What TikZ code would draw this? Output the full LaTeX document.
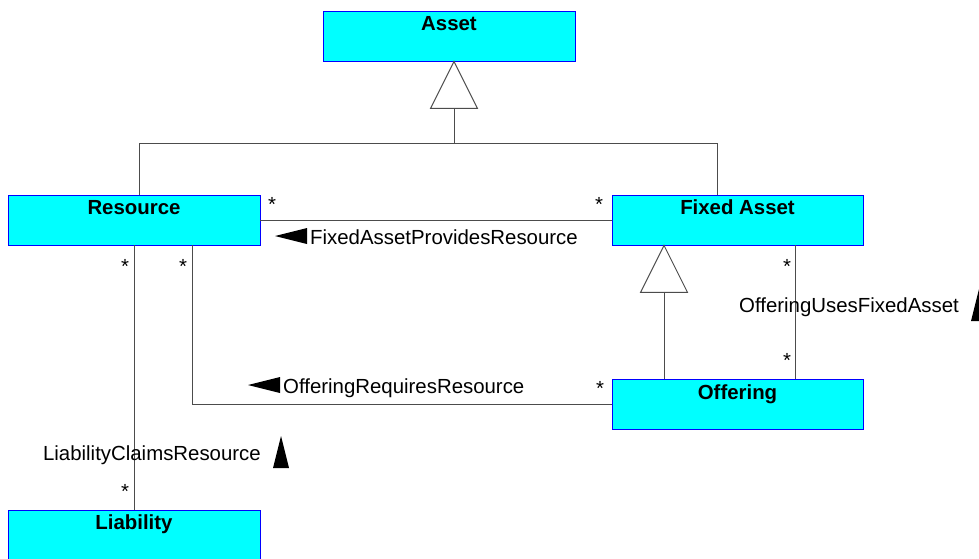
\documentclass[tikz,border=0pt]{standalone}
\usepackage{fontspec}
\setmainfont{Liberation Sans}
\usetikzlibrary{positioning}

\definecolor{classfill}{RGB}{0,255,255}
\definecolor{classline}{RGB}{0,0,255}

\tikzset{
    umlclass/.style={draw=classline,fill=classfill,line width=0.8pt,minimum width=252pt,minimum height=50pt,inner sep=0pt},
    classname/.style={label={[anchor=base,yshift=-20pt]north:\textbf{#1}}},
    assoc/.style={draw=black!70,line width=1pt},
    mult/.style={anchor=base,inner sep=0pt},
    rolename/.style={inner sep=0pt},
    pics/genhead/.style={
        code={
            \draw[assoc,fill=white] (0,0) -- (-23.5,47) -- (23.5,47) -- cycle;
        }
    },
    pics/dirmark/.style={
        code={
            \fill (0,0) -- (32,-8) -- (32,8) -- cycle;
        }
    }
}

\begin{document}
\begin{tikzpicture}[x=1pt,y=-1pt,font=\fontsize{20.4pt}{24pt}\selectfont]
    \useasboundingbox (0,0) rectangle (979,559);

    % classes
    \node[umlclass,classname=Asset] (asset) at (449,36) {};
    \node[umlclass,classname=Resource] (res) at (134,220) {};
    \node[umlclass,classname=Fixed Asset,minimum width=251pt] (fa) at (737.5,220) {};
    \node[umlclass,classname=Offering,minimum width=251pt] (off) at (737.5,404.5) {};
    \node[umlclass,classname=Liability] (liab) at (134,535) {};

    % generalizations
    \pic at ([xshift=5pt]asset.south) {genhead};
    \coordinate (gA) at ([xshift=5pt,yshift=-48pt]asset.south);
    \coordinate (gJoin) at ([yshift=-34pt]gA);
    \draw[assoc] (gA) -- (gJoin);
    \draw[assoc] ([xshift=5pt]res.north) |- (gJoin) -| ([xshift=-20.5pt]fa.north);
    \pic at ([xshift=-73.5pt]fa.south) {genhead};
    \coordinate (gB) at ([xshift=-73.5pt,yshift=-48pt]fa.south);
    \draw[assoc] (gB) -- (gB |- off.north);

    % associations
    \draw[assoc] (res.east) -- (fa.west);
    \draw[assoc] ([xshift=58pt]res.south) |- (off.west);
    \draw[assoc] (res.south) -- (liab.north);
    \draw[assoc] ([xshift=58pt]fa.south) -- ([xshift=58pt]off.north);

    % multiplicities
    \node[mult] (m1) at (272,211) {*};
    \node[mult] (m2) at (599,211) {*};
    \node[mult] (m3) at (125,273) {*};
    \node[mult] (m4) at (183,273) {*};
    \node[mult] (m5) at (787,273) {*};
    \node[mult] (m6) at (787,367) {*};
    \node[mult] (m7) at (600,395) {*};
    \node[mult] (m8) at (125,498) {*};

    % association names
    \node[rolename,anchor=base west] (fapr) at (310,244) {FixedAssetProvidesResource};
    \pic at (275,236) {dirmark};
    \node[rolename,anchor=base west] (orr) at (283,393) {OfferingRequiresResource};
    \pic at (248,385) {dirmark};
    \node[rolename,anchor=base east] (lcr) at (261,460) {LiabilityClaimsResource};
    \pic[rotate=-90] at (281,436) {dirmark};
    \node[rolename,anchor=base west] (oufa) at (739,312) {OfferingUsesFixedAsset};
    \pic[rotate=-90] at (979,289) {dirmark};
\end{tikzpicture}
\end{document}
